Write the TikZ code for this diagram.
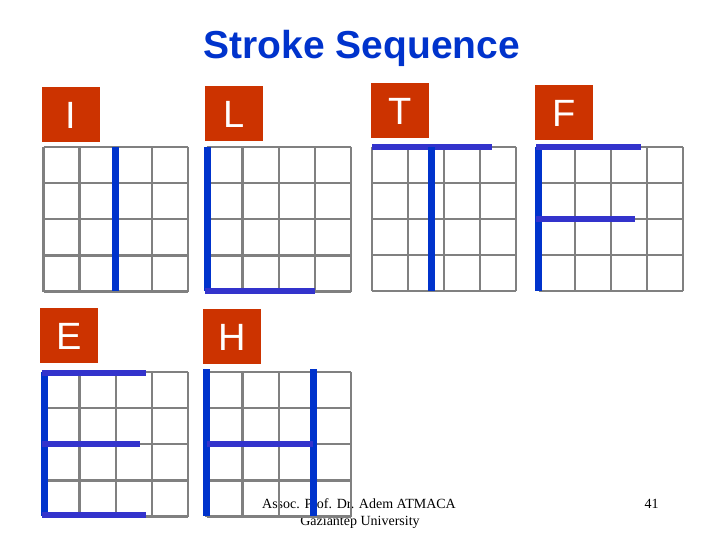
\documentclass[tikz,border=0pt]{standalone}
\usepackage{fontspec}
\setmainfont{Liberation Serif}
\newfontfamily\arialfont{Liberation Sans}
\definecolor{boxred}{HTML}{CC3300}
\definecolor{vblue}{HTML}{0033CC}
\definecolor{hblue}{HTML}{3333CC}
\definecolor{titleblue}{HTML}{0033CC}
\definecolor{gridgray}{HTML}{808080}
\tikzset{
  letterbox/.style={fill=boxred, text=white, inner sep=0pt, minimum width=58pt, minimum height=55pt,
    font=\arialfont\fontsize{38}{38}\selectfont, text height=27.2pt, text depth=0pt},
  gridline/.style={draw=gridgray, line width=2.4pt},
  vstroke/.style={draw=vblue, line width=7pt},
  hstroke/.style={draw=hblue, line width=6pt},
  footer/.style={font=\fontsize{14}{17}\selectfont, align=center, inner sep=0pt}
}
\newcommand{\cellgrid}[3]{% left x, top y, size
  \foreach \k in {0,1,2,3,4} {
    \draw[gridline] ({#1+\k*#3/4},#2) -- ({#1+\k*#3/4},{#2+#3});
    \draw[gridline] (#1,{#2+\k*#3/4}) -- ({#1+#3},{#2+\k*#3/4});
  }
}
\begin{document}
\begin{tikzpicture}[x=1pt,y=-1pt]
\useasboundingbox (0,0) rectangle (720,540);
% title
\node[anchor=base, text=titleblue, font=\arialfont\bfseries\fontsize{39}{39}\selectfont, inner sep=0pt] (title) at (362,58.5) {Stroke Sequence};
% footer (behind grids)
\node[footer, anchor=base] (author) at (359,508.3) {Assoc. Prof. Dr. Adem ATMACA};
\node[footer, anchor=base] (univ) at (360,525.3) {Gaziantep University};
\node[footer, anchor=base] (page) at (651.5,508.3) {41};
% letter boxes
\node[letterbox] (bI) at (71,114.5) {I};
\node[letterbox] (bL) at (234,114) {L};
\node[letterbox] (bT) at (400,110.5) {T};
\node[letterbox] (bF) at (564,113) {F};
\node[letterbox] (bE) at (69,335.5) {E};
\node[letterbox] (bH) at (232,336.5) {H};
% grids
\cellgrid{43.5}{147}{144.5}
\cellgrid{206.5}{147}{144.5}
\cellgrid{372}{147}{144}
\cellgrid{539}{147}{144}
\cellgrid{43.5}{372}{144.5}
\cellgrid{206.5}{372}{144.5}
% I
\draw[vstroke] (115,147) -- (115,291);
% L
\draw[vstroke] (207.5,147) -- (207.5,291);
\draw[hstroke] (205,291) -- (315,291);
% T
\draw[hstroke] (372,147.5) -- (492,147.5);
\draw[vstroke] (431,147) -- (431,291);
% F
\draw[vstroke] (538.5,147) -- (538.5,291);
\draw[hstroke] (536,147.5) -- (641,147.5);
\draw[hstroke] (536,219.5) -- (635,219.5);
% E
\draw[vstroke] (44.5,372) -- (44.5,516);
\draw[hstroke] (42,372.5) -- (146,372.5);
\draw[hstroke] (42,443.7) -- (140,443.7);
\draw[hstroke] (42,515) -- (146,515);
% H
\draw[vstroke] (206.5,369) -- (206.5,516);
\draw[vstroke] (313.3,369) -- (313.3,516);
\draw[hstroke] (207,443.7) -- (313,443.7);
\end{tikzpicture}
\end{document}
